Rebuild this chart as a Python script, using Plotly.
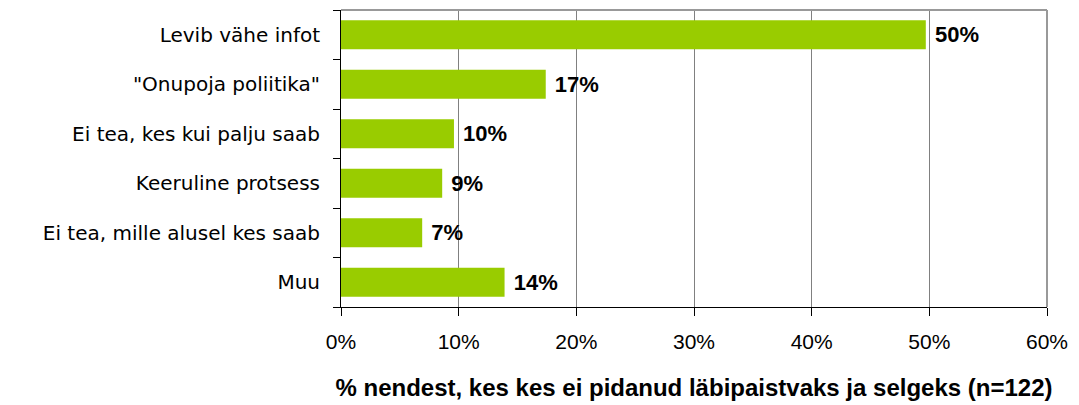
import plotly.graph_objects as go

categories = ["Levib vähe infot", "\"Onupoja poliitika\"", "Ei tea, kes kui palju saab",
              "Keeruline protsess", "Ei tea, mille alusel kes saab", "Muu"]
values = [49.7, 17.4, 9.6, 8.6, 6.9, 13.9]
value_labels = ["50%", "17%", "10%", "9%", "7%", "14%"]
x_ticks = [0, 10, 20, 30, 40, 50, 60]
x_tick_labels = ["0%", "10%", "20%", "30%", "40%", "50%", "60%"]
x_title = "% nendest, kes kes ei pidanud läbipaistvaks ja selgeks (n=122)"

fig = go.Figure(go.Bar(
    y=categories, x=values, orientation="h",
    marker=dict(color="#99cc00", line=dict(width=0)),
    text=value_labels, texttemplate="\u00a0%{text}",
    textposition="outside", cliponaxis=False,
    textfont=dict(family="Liberation Sans", size=22, color="black", weight="bold"),
    width=0.59,
))

fig.update_layout(
    width=1071, height=397,
    margin=dict(l=333, r=32, t=2, b=98),
    paper_bgcolor="white", plot_bgcolor="white",
    font=dict(family="Liberation Sans", size=18, color="black"),
    showlegend=False,
    xaxis=dict(
        range=[0, 60], tickvals=x_ticks, ticktext=x_tick_labels,
        showgrid=True, gridcolor="#808080", gridwidth=1,
        showline=True, linecolor="black", linewidth=1,
        ticks="outside", ticklen=8, tickcolor="black",
        tickfont=dict(family="Liberation Sans", size=21), ticklabelstandoff=8,
        title=dict(text=x_title, font=dict(family="Liberation Sans", size=24, weight="bold"),
                   standoff=26),
        zeroline=False,
    ),
    yaxis=dict(
        categoryorder="array", categoryarray=categories[::-1],
        autorange=False, range=[-0.5, 5.5],
        showline=True, linecolor="black", linewidth=1,
        ticks="outside", ticklen=7, tickcolor="black", tickson="boundaries",
        tickfont=dict(family="DejaVu Sans", size=20), ticklabelstandoff=16,
        showgrid=False,
    ),
    shapes=[
        dict(type="line", xref="paper", yref="paper", x0=0, x1=1, y0=1, y1=1,
             line=dict(color="#999999", width=2)),
        dict(type="line", xref="paper", yref="paper", x0=1, x1=1, y0=0, y1=1,
             line=dict(color="#999999", width=2)),
    ],
)

fig.write_html("out.html")
